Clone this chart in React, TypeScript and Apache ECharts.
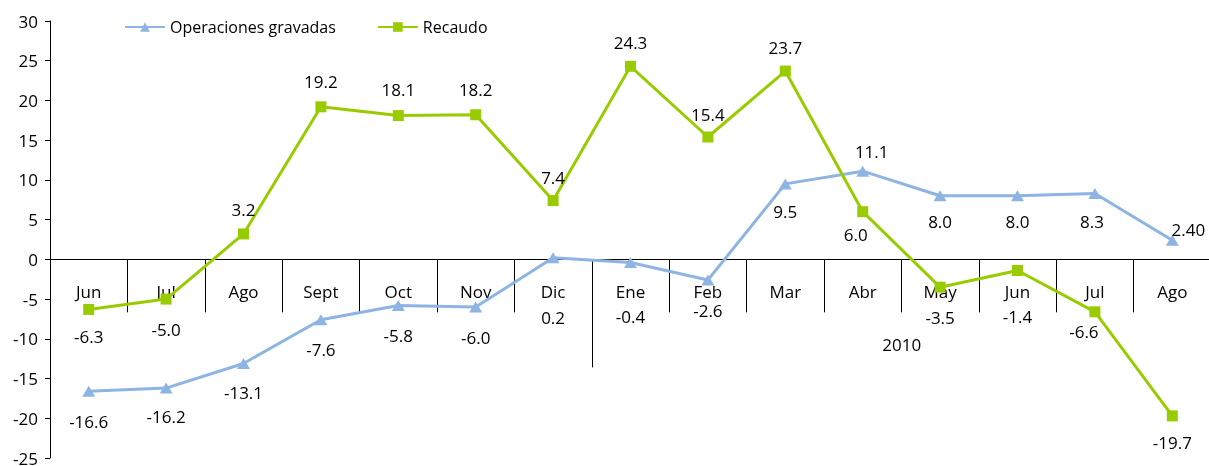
import React, { useEffect, useRef } from "react";
import * as echarts from "echarts";

const categories = ["Jun", "Jul", "Ago", "Sept", "Oct", "Nov", "Dic", "Ene", "Feb", "Mar", "Abr", "May", "Jun", "Jul", "Ago"];
const operacionesGravadas = [-16.6, -16.2, -13.1, -7.6, -5.8, -6.0, 0.2, -0.4, -2.6, 9.5, 11.1, 8.0, 8.0, 8.3, 2.4];
const operacionesText = ["-16.6", "-16.2", "-13.1", "-7.6", "-5.8", "-6.0", "0.2", "-0.4", "-2.6", "9.5", "11.1", "8.0", "8.0", "8.3", "2.40"];
const recaudo = [-6.3, -5.0, 3.2, 19.2, 18.1, 18.2, 7.4, 24.3, 15.4, 23.7, 6.0, -3.5, -1.4, -6.6, -19.7];
const recaudoText = ["-6.3", "-5.0", "3.2", "19.2", "18.1", "18.2", "7.4", "24.3", "15.4", "23.7", "6.0", "-3.5", "-1.4", "-6.6", "-19.7"];
const yMin = -25;
const yMax = 30;
const yStep = 5;
const yearLabel = "2010";
const yearStartIndex = 7;

// label placement (layout only)
const opOffsets: [number, number][] = [
  [0, 30], [0, 28], [0, 29], [0, 30], [0, 30], [0, 30], [0, 60], [0, 54], [0, 30], [0, 28], [9, -20], [0, 26], [0, 26], [-3, 28], [16, -11],
];
const reOffsets: [number, number][] = [
  [0, 27], [0, 30], [0, -24], [0, -25], [0, -26], [0, -25], [0, -23], [0, -24], [0, -23], [0, -24], [-7, 23], [0, 30], [0, 46], [-11, 20], [0, 27],
];

const FONT = "Open Sans";
const BLUE = "#8EB4E3";
const GREEN = "#99CC00";

export default function App() {
  const ref = useRef<HTMLDivElement>(null);
  useEffect(() => {
    if (!ref.current) return;
    const chart = echarts.init(ref.current, undefined, { renderer: "svg" });
    const mk = (vals: number[], texts: string[], offs: [number, number][]) =>
      vals.map((v, i) => ({
        value: v,
        label: { show: true, position: "inside", offset: offs[i], formatter: texts[i] },
      }));
    const xAxisBase = {
      type: "category",
      data: categories,
      boundaryGap: true,
      position: "bottom",
      offset: 0,
      axisLine: { onZero: false, lineStyle: { color: "#000", width: 1 } },
      axisTick: { show: true, length: 53, alignWithLabel: false, lineStyle: { color: "#000" } },
      axisLabel: { margin: 24, fontFamily: FONT, fontSize: 17, color: "#000", interval: 0 },
      splitLine: { show: false },
    };
    chart.setOption({
      animation: false,
      textStyle: { fontFamily: FONT },
      legend: {
        left: 119,
        top: 14,
        itemWidth: 40,
        itemHeight: 12,
        itemGap: 41,
        textStyle: { fontFamily: FONT, fontSize: 16, color: "#000" },
        data: ["Operaciones gravadas", "Recaudo"],
      },
      grid: { left: 50, top: 21, bottom: 8, width: 1161, containLabel: false, outerBoundsMode: "none" },
      xAxis: xAxisBase,
      yAxis: {
        type: "value",
        min: yMin,
        max: yMax,
        interval: yStep,
        axisLine: { show: true, lineStyle: { color: "#000", width: 1 } },
        axisTick: { show: true, length: 5, lineStyle: { color: "#000" } },
        axisLabel: { margin: 12, fontFamily: FONT, fontSize: 17, color: "#000" },
        splitLine: { show: false },
      },
      series: [
        {
          name: "Operaciones gravadas",
          type: "line",
          data: mk(operacionesGravadas, operacionesText, opOffsets),
          symbol: "triangle",
          symbolSize: [13, 11],
          lineStyle: { color: BLUE, width: 3 },
          itemStyle: { color: BLUE },
          label: { fontFamily: FONT, fontSize: 17, color: "#000" },
          z: 2,
        },
        {
          name: "Recaudo",
          type: "line",
          data: mk(recaudo, recaudoText, reOffsets),
          symbol: "rect",
          symbolSize: 11,
          lineStyle: { color: GREEN, width: 3 },
          itemStyle: { color: GREEN },
          label: { fontFamily: FONT, fontSize: 17, color: "#000" },
          z: 3,
        },
      ],
    });
    const y0 = chart.convertToPixel({ yAxisIndex: 0 }, 0) as number;
    const yBottom = chart.convertToPixel({ yAxisIndex: 0 }, yMin) as number;
    const x6 = chart.convertToPixel({ xAxisIndex: 0 }, yearStartIndex - 1) as number;
    const x7 = chart.convertToPixel({ xAxisIndex: 0 }, yearStartIndex) as number;
    const xLast = chart.convertToPixel({ xAxisIndex: 0 }, categories.length - 1) as number;
    const band = x7 - x6;
    const sepX = Math.round((x6 + x7) / 2) + 0.5;
    const yearCenter = (sepX + xLast + band / 2) / 2;
    chart.setOption({
      xAxis: { ...xAxisBase, offset: -(yBottom - y0) },
      graphic: [
        {
          type: "line",
          shape: { x1: sepX, y1: y0, x2: sepX, y2: y0 + 108 },
          style: { stroke: "#000", lineWidth: 1 },
        },
        {
          type: "text",
          x: yearCenter,
          y: y0 + 85,
          style: { text: yearLabel, fontFamily: FONT, fontSize: 17, fill: "#000", align: "center", verticalAlign: "middle" },
        },
      ],
    });
    return () => chart.dispose();
  }, []);
  return <div ref={ref} style={{ position: "fixed", left: 0, top: 0, width: 1209, height: 466 }} />;
}
